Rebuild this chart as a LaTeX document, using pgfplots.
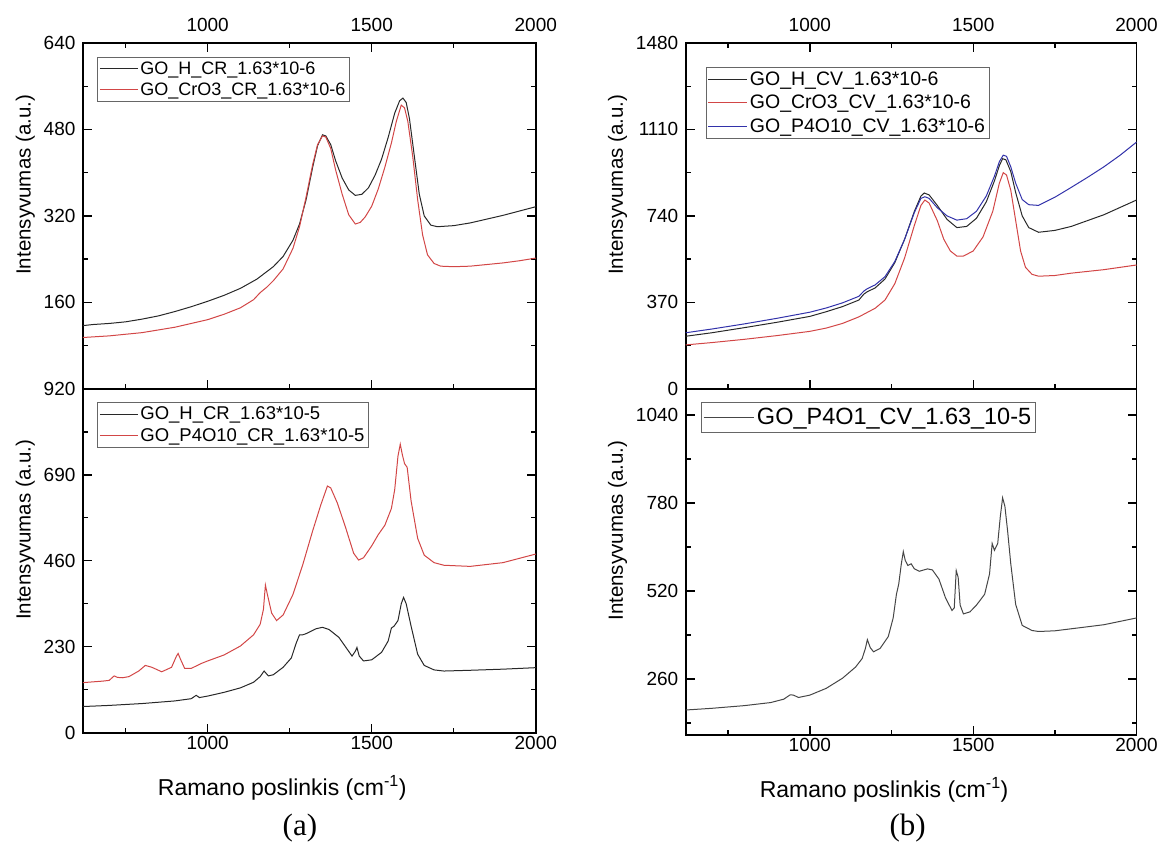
\documentclass[border=0pt]{standalone}
\usepackage{fontspec}
\setmainfont{Liberation Sans}
\newfontfamily\seriffont{Liberation Serif}
\usepackage{pgfplots}
\pgfplotsset{compat=1.18}
\definecolor{cblk}{RGB}{40,40,40}
\definecolor{cred}{RGB}{210,70,70}
\definecolor{cblu}{RGB}{50,50,170}
\definecolor{cgry}{RGB}{70,70,70}

\pgfplotsset{
  panel/.style={
    scale only axis, width=453pt, height=346pt,
    xmin=620, xmax=2000,
    axis line style={line width=1.8pt},
    tick style={line width=1.4pt, black},
    major tick length=9pt, minor tick length=5pt,
    tick align=inside,
    xtick={1000,1500,2000}, minor xtick={750,1250,1750},
    ytick pos=both,
    tick label style={font=\fontsize{19}{19}\selectfont},
    yticklabel style={xshift=-4pt},
    /pgf/number format/assume math mode=true,
    /pgf/number format/1000 sep={},
    ylabel={Intensyvumas (a.u.)},
    ylabel style={font=\fontsize{20.5}{20.5}\selectfont, at={(ticklabel cs:0.59)}, yshift=2pt},
    legend cell align=left,
    legend style={anchor=north west, draw=black!60, line width=0.8pt, inner xsep=2pt, inner ysep=2.5pt, row sep=3pt},
    every axis plot/.append style={line width=1pt},
  },
  toppanel/.style={panel, xtick pos=both, xticklabel pos=right, xticklabel style={yshift=8pt}},
  botpanel/.style={panel, xtick pos=left, xticklabel pos=left,
    xlabel={Ramano poslinkis (cm\textsuperscript{-1})},
    xlabel style={font=\fontsize{23}{23}\selectfont, at={(ticklabel cs:0.44)}, anchor=north, yshift=-19pt}},
}

\begin{document}
\begin{tikzpicture}
\path (0pt,0pt) rectangle (1161pt,-848pt);

% ---------------- top left ----------------
\begin{axis}[toppanel, at={(83pt,-43pt)}, anchor=north west,
  ymin=0, ymax=640, ytick={160,320,480,640}, minor ytick={80,240,400,560},
  legend style={at={(0.031,0.96)}, font=\fontsize{18}{20}\selectfont},
  legend image code/.code={\draw[#1] (0pt,0pt) -- (38pt,0pt);}]
\addplot[cblk] coordinates {
(620,117)(650,119)(700,121)(750,124)(800,129)(850,135)(900,143)(950,152)(1000,162)(1050,173)(1100,186)(1150,203)(1200,226)(1230,245)(1260,275)(1280,305)(1300,350)(1320,410)(1335,450)(1350,470)(1360,468)(1375,452)(1390,422)(1410,390)(1430,368)(1450,358)(1470,360)(1490,372)(1510,395)(1530,425)(1550,465)(1570,510)(1585,533)(1595,538)(1605,530)(1615,500)(1630,430)(1645,360)(1660,320)(1680,303)(1700,300)(1750,302)(1800,307)(1850,314)(1900,321)(1950,329)(2000,337)};
\addlegendentry{GO\_H\_CR\_1.63*10-6}
\addplot[cred] coordinates {
(620,95)(700,98)(800,104)(900,114)(1000,128)(1050,138)(1100,150)(1140,165)(1160,178)(1180,188)(1200,200)(1230,222)(1260,260)(1280,300)(1300,355)(1320,415)(1335,452)(1350,468)(1360,466)(1375,445)(1390,405)(1410,360)(1430,322)(1450,305)(1465,308)(1480,318)(1500,338)(1520,370)(1540,410)(1560,455)(1575,495)(1590,525)(1600,520)(1610,495)(1625,430)(1640,350)(1655,285)(1670,248)(1690,232)(1710,227)(1750,226)(1800,227)(1850,230)(1900,233)(1950,237)(2000,242)};
\addlegendentry{GO\_CrO3\_CR\_1.63*10-6}
\end{axis}

% ---------------- bottom left ----------------
\begin{axis}[botpanel, at={(83pt,-389pt)}, anchor=north west, height=344pt,
  ymin=0, ymax=920, ytick={0,230,460,690,920}, minor ytick={115,345,575,805},
  legend style={at={(0.031,0.962)}, font=\fontsize{18.5}{22}\selectfont},
  legend image code/.code={\draw[#1] (0pt,0pt) -- (38pt,0pt);}]
\addplot[cblk] coordinates {
(620,70)(700,73)(800,78)(900,85)(950,91)(965,100)(975,94)(1000,98)(1050,108)(1100,120)(1140,135)(1160,150)(1172,165)(1185,152)(1200,155)(1230,175)(1255,200)(1270,240)(1280,262)(1290,262)(1300,265)(1330,278)(1350,282)(1370,276)(1400,255)(1420,230)(1440,205)(1450,218)(1455,228)(1462,205)(1475,192)(1500,195)(1530,215)(1550,245)(1560,280)(1568,285)(1580,300)(1590,345)(1597,362)(1605,345)(1620,285)(1640,210)(1660,180)(1690,168)(1720,165)(1800,167)(1900,170)(2000,174)};
\addlegendentry{GO\_H\_CR\_1.63*10-5}
\addplot[cred] coordinates {
(620,134)(680,138)(700,140)(715,152)(725,148)(740,147)(760,150)(790,165)(810,180)(830,175)(860,163)(890,175)(905,205)(910,212)(918,195)(930,172)(950,172)(980,185)(1000,192)(1050,208)(1100,232)(1140,262)(1160,290)(1170,330)(1176,395)(1182,370)(1195,320)(1210,300)(1230,315)(1260,370)(1290,450)(1320,540)(1345,610)(1365,660)(1375,655)(1395,615)(1420,550)(1445,480)(1460,462)(1475,468)(1500,500)(1520,530)(1540,555)(1560,600)(1570,650)(1580,740)(1587,772)(1593,745)(1600,720)(1608,710)(1620,620)(1640,520)(1660,475)(1690,455)(1720,448)(1800,445)(1900,455)(2000,478)};
\addlegendentry{GO\_P4O10\_CR\_1.63*10-5}
\end{axis}

% ---------------- top right ----------------
\begin{axis}[toppanel, at={(686pt,-43pt)}, anchor=north west, width=451pt,
  ymin=0, ymax=1480, ytick={0,370,740,1110,1480}, minor ytick={185,555,925,1295},
  legend style={at={(0.044,0.931)}, font=\fontsize{19.5}{23}\selectfont, row sep=4pt, inner ysep=3pt},
  legend image code/.code={\draw[#1] (0pt,0pt) -- (39pt,0pt);}]
\addplot[cblk] coordinates {
(620,225)(700,240)(800,262)(900,285)(1000,310)(1050,330)(1100,352)(1150,380)(1165,405)(1175,415)(1200,432)(1230,470)(1260,540)(1290,640)(1320,760)(1340,825)(1350,838)(1365,830)(1390,785)(1420,725)(1450,690)(1480,695)(1510,730)(1540,800)(1565,890)(1580,955)(1590,985)(1600,980)(1615,930)(1630,840)(1650,740)(1670,690)(1700,670)(1750,678)(1800,695)(1900,745)(2000,808)};
\addlegendentry{GO\_H\_CV\_1.63*10-6}
\addplot[cred] coordinates {
(620,188)(700,198)(800,212)(900,228)(1000,246)(1050,260)(1100,280)(1150,308)(1200,345)(1230,380)(1260,450)(1290,560)(1320,700)(1340,785)(1352,808)(1365,795)(1390,720)(1410,640)(1430,590)(1450,568)(1470,568)(1500,590)(1530,650)(1560,760)(1580,880)(1592,925)(1602,915)(1615,850)(1630,720)(1645,590)(1660,520)(1680,490)(1700,482)(1750,485)(1800,495)(1900,510)(2000,530)};
\addlegendentry{GO\_CrO3\_CV\_1.63*10-6}
\addplot[cblu] coordinates {
(620,240)(700,256)(800,278)(900,302)(1000,328)(1050,346)(1100,368)(1150,396)(1165,418)(1175,428)(1200,445)(1230,480)(1260,545)(1290,640)(1320,755)(1340,815)(1352,822)(1365,815)(1390,775)(1420,740)(1450,722)(1480,728)(1510,760)(1540,825)(1565,910)(1580,972)(1592,1000)(1602,995)(1615,950)(1630,880)(1650,810)(1670,788)(1700,785)(1750,820)(1800,862)(1850,905)(1900,950)(1950,1000)(2000,1056)};
\addlegendentry{GO\_P4O10\_CV\_1.63*10-6}
\end{axis}

% ---------------- bottom right ----------------
\begin{axis}[botpanel, at={(686pt,-389pt)}, anchor=north west, width=451pt,
  ymin=95, ymax=1117, ytick={260,520,780,1040}, minor ytick={130,390,650,910},
  legend style={at={(0.033,0.962)}, font=\fontsize{23.5}{26}\selectfont, inner ysep=4pt},
  legend image code/.code={\draw[#1] (0pt,0pt) -- (51pt,0pt);}]
\addplot[cgry] coordinates {
(620,168)(700,173)(800,181)(880,190)(920,200)(940,213)(950,212)(965,205)(1000,212)(1050,232)(1100,262)(1140,295)(1160,320)(1170,350)(1176,376)(1185,352)(1195,340)(1215,350)(1240,385)(1255,440)(1265,510)(1272,540)(1280,600)(1286,636)(1292,610)(1300,595)(1310,600)(1320,585)(1335,578)(1360,585)(1375,582)(1395,555)(1415,500)(1435,462)(1442,470)(1448,580)(1454,560)(1460,478)(1470,452)(1490,458)(1510,478)(1535,510)(1550,570)(1558,660)(1565,640)(1575,660)(1583,740)(1590,795)(1597,770)(1605,700)(1615,600)(1630,480)(1650,418)(1680,403)(1700,400)(1750,402)(1800,408)(1900,420)(2000,440)};
\addlegendentry{GO\_P4O1\_CV\_1.63\_10-5}
\end{axis}

\node[font=\seriffont\fontsize{31}{31}\selectfont] at (300pt,-828pt) {(a)};
\node[font=\seriffont\fontsize{31}{31}\selectfont] at (908pt,-828pt) {(b)};
\end{tikzpicture}
\end{document}
